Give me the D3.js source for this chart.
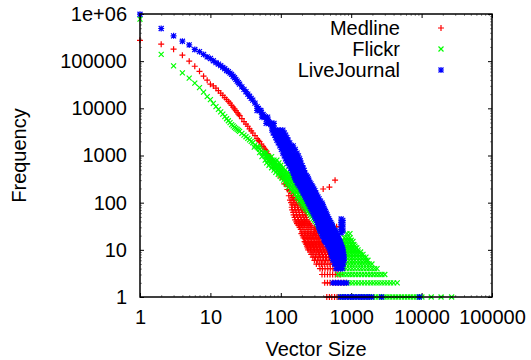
<!DOCTYPE html>
<html>
<head>
<meta charset="utf-8">
<script src="https://cdn.jsdelivr.net/npm/d3@7"></script>
<style>
  body { margin: 0; background: #fff; }
  text { font-family: "Liberation Sans", Arial, sans-serif; font-size: 20px; fill: #000; }
</style>
</head>
<body>
<svg id="chart" width="531" height="360"></svg>
<script>
// ---- data ----
const seriesNames = ["Medline", "Flickr", "LiveJournal"]
const seriesColors = ["#ff0000", "#00ff00", "#0000ff"]
const xTicks = [1, 10, 100, 1000, 10000, 100000]
const yTicks = [1, 10, 100, 1000, 10000, 100000, 1000000]

// main curve, one [size, frequency] per point
const medlineCurve = [[1,277000],[2,229000],[3,180000],[4,134000],[5,100000],[6,78000],[7,61000],[8,48000],[9,39500],[10,32600],
  [11,29800],[12,26700],[13,23700],[14,21000],[15,18800],[16,16900],[17,15400],[18,14000],[19,12900],[20,11600],[21,10600],[22,9700],
  [23,8900],[24,8150],[25,7530],[26,7000],[28,6030],[30,5230],[32,4630],[34,4170],[36,3680],[38,3340],[40,3000],[43,2630],[46,2280],
  [48,2100],[50,1960],[53,1750],[56,1560],[58,1440],[60,1330],[63,1230],[65,1100],[67,1010],[70,930],[72,860],[75,787],[78,730],
  [80,684],[85,593],[88,550],[90,520],[95,458],[100,408],[103,380],[106,349],[112,307],[118,258],[125,222],[132,180],[140,158],
  [148,128],[155,115]]
// noisy tail: [frequency, [sizes...]]
const medlineRows = [
  [560,[78,86]],[350,[98,108]],[250,[112,122]],[190,[124,134]],[140,[130,142,152]],
  [113,[135,150,165,180,190]],[100,[140,153,168,184,198]],[90,[145,160,176,194,205]],[80,[143,157,172,190,208]],
  [70,[145,160,178,198,215]],[62,[150,165,182,202,220]],[55,[152,168,185,205,225]],[49,[157,174,192,212,230]],
  [43,[160,178,198,218,235]],[39,[166,184,204,226,245]],[36,[170,190,210,235,255]],[33,[178,197,218,242,265]],
  [30,[185,205,228,250,275,300]],[27,[192,213,236,260,288,312]],[24,[200,222,245,270,300,325]],[22,[196,218,240,265,292,322,345]],
  [20,[205,228,252,280,310,340]],[18,[210,234,258,285,315,345]],[17,[220,244,270,297,327,358]],[15,[218,242,268,296,326,360,390]],
  [14,[225,250,275,305,340,375]],[13,[230,255,282,312,346,385]],[12,[235,260,290,320,355,395]],[11,[240,265,294,325,360,400,440]],
  [10,[245,270,300,330,365,405,450]],[9,[260,285,315,345,380,420,460]],[8,[270,295,325,355,390,430,475,510]],
  [7,[285,310,340,370,405,445,490,530]],[6,[300,330,360,395,430,470,520,560]],[5,[320,350,380,415,455,500,550,590]],
  [4,[360,390,425,465,505,550,595,630]],[3,[385,420,460,500,545,595,645,700]],[2,[420,460,500,545,595,650,710,775,850]],
  [1,[450,490,530,580,630,690]]]
const medlineExtra = [[305,160],[400,195],[490,214],[590,300],[440,31],[500,31],[560,31],[620,31],[690,31]]

const flickrCurve = [[1,776000],[2,139000],[3,79500],[4,56500],[5,43600],[6,34200],[7,27500],[8,22000],[9,17700],[10,15300],
  [11,12700],[12,10900],[13,9530],[14,8390],[15,7540],[16,6670],[17,6020],[18,5460],[19,4980],[20,4520],[21,4250],[22,3980],
  [23,3750],[24,3570],[25,3400],[26,3240],[28,2950],[30,2700],[32,2500],[34,2310],[36,2150],[38,2000],[40,1860],[43,1680],
  [46,1530],[48,1440],[50,1360],[53,1250],[56,1150],[58,1100],[60,1055],[63,975],[65,940],[67,903],[70,839],[72,800],[75,754],
  [78,710],[80,677],[85,617],[88,585],[90,560],[95,513],[100,467]]
const flickrRows = [
  [1500,[42,48]],[1150,[50,56,62]],[950,[54,60,67,74]],
  [800,[60,66,72,80,88]],[700,[63,70,77,85,94]],[620,[68,75,83,92,100]],[550,[74,81,89,98,107]],[490,[80,88,97,106,115]],
  [440,[85,94,103,113,124]],[400,[92,101,111,122,133]],[360,[98,108,118,129,141]],[330,[104,114,125,136,148]],
  [300,[110,121,132,145,159]],[270,[116,127,140,154,170]],[240,[123,135,149,164,181]],[215,[130,143,157,174,193]],
  [190,[140,154,169,186,207]],[170,[150,165,182,200,222]],[150,[160,176,193,214,240]],[130,[170,187,205,230,260]],
  [120,[177,195,215,240,272]],[110,[185,205,225,250,285]],[100,[193,212,235,265,300]],[93,[200,220,245,280,315]],
  [86,[207,228,255,290,330]],[80,[215,240,265,300,345]],[75,[225,248,276,314,360]],[70,[235,260,290,330,380]],
  [65,[245,270,302,342,395]],[60,[255,280,315,355,410]],[55,[265,292,328,372,425]],[50,[275,305,340,390,440]],
  [46,[288,318,355,405,455]],[43,[300,330,370,420,470]],[40,[312,345,385,435,485]],[37,[325,360,400,450,500]],
  [34,[335,372,415,465,518]],[31,[345,385,430,480,535]],[28,[358,398,445,495,552]],[26,[370,410,460,510,570]],
  [24,[380,422,472,525,585]],[22,[390,435,485,540,600,870,960]],[20,[410,460,510,570,630]],[18,[800,880,960]],
  [16,[760,840,920,1000]],[15,[740,810,890,970,1060]],[13,[760,830,910,1000,1090]],[12,[770,850,940,1030,1130]],
  [11,[780,860,950,1050,1160,1200]],[10,[770,850,940,1030,1130,1250]],[9,[770,850,940,1030,1130,1250,1360]],
  [8,[770,850,940,1030,1130,1250,1370,1470]],
  [7,[770,850,940,1030,1130,1250,1370,1500,1620]],[6,[770,850,940,1030,1130,1250,1370,1500,1620,1730]],
  [5,[770,850,940,1030,1130,1250,1370,1500,1650,1800,1970]],
  [4,[700,770,850,940,1030,1130,1250,1370,1500,1650,1800,1970,2150,2330]],
  [3,[650,720,790,870,960,1050,1160,1270,1400,1540,1700,1870,2050,2260,2480,2730,3000]],
  [2,[870,960,1050,1160,1270,1400,1540,1700,1870,2050,2260,2480,2730,3000,3300,3630,4000,4500]],
  [1,[700,770,850,940,1030,1130,1250,1370,1500,1650,1820,2000,2200,2420,2660,2930,3220,3540,3900,4300,4700,5200,
      5700,6300,6900,7600,8400,9200,10100,13700,18900,26700]]]
const flickrExtra = []

const liveJournalCurve = [[1,990000],[2,493000],[3,344000],[4,265000],[5,221000],[6,177000],[7,159000],[8,139000],[9,123000],
  [10,114000],[11,102000],[12,93000],[13,86800],[14,80300],[15,74000],[16,69000],[17,63500],[18,60000],[19,55700],[20,52300],
  [21,48000],[22,44500],[23,41000],[24,37700],[25,35000],[26,32600],[28,28600],[30,25300],[32,22500],[34,20000],[36,18000],
  [38,16300],[40,14900],[43,12900],[46,10900],[48,9900],[50,9000],[53,8260],[56,7390],[58,6900],[60,6510],[63,5930],[65,5550],
  [67,5250],[70,4860],[72,4550],[75,4240],[78,3950],[80,3730],[85,3320],[88,3120],[90,2980],[95,2630],[100,2340]]
const liveJournalRows = [
  [9000,[46,52]],[6500,[54,60,65]],[4800,[62,68,74,80]],
  [3450,[75,82,90,98,107]],[3000,[78,86,94,102,112]],[2700,[82,90,98,107,117]],[2400,[85,93,101,111,122]],
  [2120,[88,96,105,115,127]],[1850,[92,101,110,121,134]],[1600,[97,106,116,128,140,150]],[1350,[102,112,122,134,147,160]],
  [1120,[107,117,128,140,154,170]],[980,[112,122,134,147,162,178]],[850,[117,128,140,154,170,185]],[770,[121,133,145,160,175,189]],
  [690,[126,138,151,166,180,193]],[610,[132,145,158,174,190,201]],
  [540,[138,151,166,182,200,208]],[480,[144,158,173,189,205,214]],[425,[150,164,180,197,210,220]],[380,[154,168,185,202,219,230]],
  [350,[158,173,190,208,228,240]],[320,[161,176,193,211,231,245]],
  [300,[164,180,197,215,235,250]],[270,[170,186,204,222,242,259]],[250,[175,192,210,230,250,268]],[230,[181,199,217,237,258,276]],
  [215,[188,206,225,245,265,285]],[195,[194,212,231,252,274,295]],
  [180,[200,218,238,260,283,305]],[160,[207,226,247,270,293,315]],[145,[215,235,257,280,303,325]],[132,[222,243,266,290,314,337]],
  [120,[230,252,275,300,325,350]],[108,[237,259,283,310,337,367]],
  [98,[245,267,292,320,350,385]],[90,[252,275,301,330,360,392]],[83,[260,284,310,340,370,400]],[76,[267,292,318,348,379,410]],
  [70,[275,300,327,357,388,420]],[65,[282,308,336,366,399,431]],
  [60,[290,316,345,376,410,442]],[55,[297,324,353,385,420,453]],[50,[305,332,362,395,430,465]],[46,[313,341,372,406,442,480]],
  [42,[322,350,382,417,455,495]],[38,[331,360,392,428,467,512]],
  [35,[340,370,403,440,480,530]],[32,[345,376,410,448,488,538]],[30,[350,382,416,455,495,545]],[28,[355,388,423,462,505,552]],
  [26,[360,393,430,470,515,560,590]],[24,[370,404,441,481,526,572,605]],
  [22,[380,414,452,493,538,585,620]],[20,[390,425,464,506,552,598,635]],[19,[400,436,476,520,567,610,650]],
  [17,[410,447,488,533,581,625,662]],[16,[420,458,500,546,595,640,675]],[15,[430,469,511,558,607,652,688]],
  [14,[440,480,523,570,620,665,700]],[13,[455,495,539,587,635,682,715]],
  [12,[470,510,555,605,650,700,730]],[11,[485,527,575,625,675,730,750]],[10,[500,545,595,645,700,760]],
  [9,[510,555,605,655,710,770]],
  [8,[520,565,615,665,720,780]],[7,[530,575,625,675,730,790]],[6,[550,595,645,695,750,790]],
  [5,[580,625,675,725,770]],[4,[610,660,710,750]],[2,[550,600,660,720,790,860]],
  [1,[700,760,830,900,980,1070,1170,1280,1400,1530,1670,1820,1950,2700,9300]]]
const liveJournalExtra = [[720,45],[760,42],[720,38],[760,35],[720,32],[760,29],[720,27],[760,25],[720,23]]

// ---- chart ----
const width = 531, height = 360
const margin = { top: 14, right: 39, bottom: 63, left: 140 }

const svg = d3.select("#chart")

const x = d3.scaleLog().domain([1, 100000]).range([margin.left, width - margin.right])
const y = d3.scaleLog().domain([1, 1000000]).range([height - margin.bottom, margin.top])

function expand(curve, rows, extra) {
  const pts = curve.slice()
  rows.forEach(([f, sizes]) => sizes.forEach(s => pts.push([s, f])))
  return pts.concat(extra)
}

const series = [
  { name: seriesNames[0], color: seriesColors[0], shape: "plus", points: expand(medlineCurve, medlineRows, medlineExtra) },
  { name: seriesNames[1], color: seriesColors[1], shape: "cross", points: expand(flickrCurve, flickrRows, flickrExtra) },
  { name: seriesNames[2], color: seriesColors[2], shape: "star", points: expand(liveJournalCurve, liveJournalRows, liveJournalExtra) },
]

function markerPath(shape) {
  const s = 3, c = 2.5
  const plus = `M${-s},0H${s}M0,${-s}V${s}`
  const cross = `M${-c},${-c}L${c},${c}M${-c},${c}L${c},${-c}`
  if (shape == "plus") return plus
  if (shape == "cross") return cross
  return plus + cross
}

// minor ticks: log subdivisions that are not decades
const isDecade = v => Math.abs(Math.log10(v) - Math.round(Math.log10(v))) < 1e-9
const xMinor = x.ticks().filter(v => !isDecade(v))
const yMinor = y.ticks().filter(v => !isDecade(v))
const fmtY = d => d >= 1000000 ? "1e+06" : d3.format("d")(d)

const x0 = margin.left, x1 = width - margin.right
const y0 = height - margin.bottom, y1 = margin.top

function addAxis(axis, tx, ty, cls) {
  const g = svg.append("g").attr("class", cls).attr("transform", `translate(${tx},${ty})`).call(axis)
  g.select(".domain").remove()
  g.selectAll("text").style("font-family", '"Liberation Sans", Arial, sans-serif').style("font-size", "20px").attr("fill", "#000")
  return g
}

// minor ticks, faint
addAxis(d3.axisBottom(x).tickValues(xMinor).tickSize(-2).tickFormat(""), 0, y0, "minor").selectAll("line").attr("stroke-opacity", 0.45)
addAxis(d3.axisTop(x).tickValues(xMinor).tickSize(-2).tickFormat(""), 0, y1, "minor").selectAll("line").attr("stroke-opacity", 0.45)
addAxis(d3.axisLeft(y).tickValues(yMinor).tickSize(-2).tickFormat(""), x0, 0, "minor").selectAll("line").attr("stroke-opacity", 0.45)
addAxis(d3.axisRight(y).tickValues(yMinor).tickSize(-2).tickFormat(""), x1, 0, "minor").selectAll("line").attr("stroke-opacity", 0.45)

// major ticks with labels
addAxis(d3.axisBottom(x).tickValues(xTicks).tickFormat(d3.format("d")).tickSize(-4).tickPadding(13), 0, y0, "x-axis")
addAxis(d3.axisLeft(y).tickValues(yTicks).tickFormat(fmtY).tickSize(-4).tickPadding(13), x0, 0, "y-axis")
addAxis(d3.axisTop(x).tickValues(xTicks).tickFormat("").tickSize(-4), 0, y1, "x-mirror")
addAxis(d3.axisRight(y).tickValues(yTicks).tickFormat("").tickSize(-4), x1, 0, "y-mirror")

// points
series.forEach(s => {
  svg.append("g")
    .attr("class", "series")
    .selectAll("path")
    .data(s.points)
    .join("path")
      .attr("transform", d => `translate(${x(d[0])},${y(d[1])})`)
      .attr("d", markerPath(s.shape))
      .attr("fill", "none")
      .attr("stroke", s.color)
      .attr("stroke-width", 1.2)
})

// border
svg.append("rect")
  .attr("x", x0).attr("y", y1)
  .attr("width", x1 - x0).attr("height", y0 - y1)
  .attr("fill", "none").attr("stroke", "#000").attr("stroke-width", 1.5)

// axis titles
svg.append("text")
  .attr("x", (x0 + x1) / 2).attr("y", 356)
  .attr("text-anchor", "middle")
  .text("Vector Size")

svg.append("text")
  .attr("transform", `translate(26,${(y0 + y1) / 2}) rotate(-90)`)
  .attr("text-anchor", "middle")
  .text("Frequency")

// legend
const legend = svg.append("g").attr("class", "legend")
series.forEach((s, i) => {
  const ly = 28 + i * 21
  legend.append("text")
    .attr("x", 400).attr("y", ly + 7)
    .attr("text-anchor", "end")
    .text(s.name)
  legend.append("path")
    .attr("transform", `translate(441,${ly})`)
    .attr("d", markerPath(s.shape))
    .attr("fill", "none")
    .attr("stroke", s.color)
    .attr("stroke-width", 1.2)
})
</script>
</body>
</html>
